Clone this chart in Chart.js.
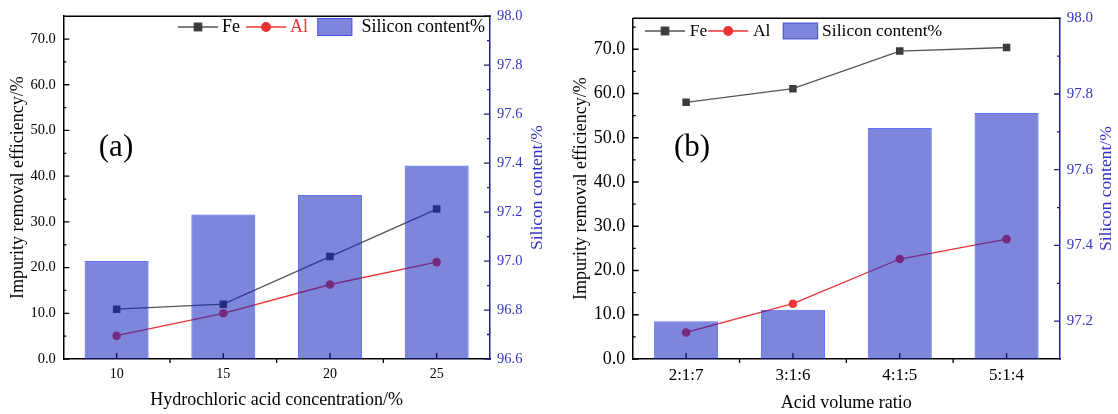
<!DOCTYPE html>
<html>
<head>
<meta charset="utf-8">
<script src="https://cdn.jsdelivr.net/npm/chart.js@4.4.1/dist/chart.umd.min.js"></script>
<style>
  html, body { margin: 0; padding: 0; background: #fff; }
  .wrap { position: relative; width: 1118px; height: 414px; }
  #chartA { position: absolute; left: 0; top: 0; }
  #chartB { position: absolute; left: 560px; top: 0; }
</style>
</head>
<body>
<div class="wrap">
  <canvas id="chartA" width="560" height="414"></canvas>
  <canvas id="chartB" width="558" height="414"></canvas>
</div>
<script>
// panel (a) - hydrochloric acid concentration
const catsA = ['10', '15', '20', '25'];
const feA = [10.9, 12.0, 22.4, 32.8];
const alA = [5.1, 10.0, 16.3, 21.2];
const siA = [97.0, 97.19, 97.27, 97.39];
const leftTicksA = [0, 10, 20, 30, 40, 50, 60, 70];
const rightTicksA = [96.6, 96.8, 97.0, 97.2, 97.4, 97.6, 97.8, 98.0];

// panel (b) - acid volume ratio
const catsB = ['2:1:7', '3:1:6', '4:1:5', '5:1:4'];
const feB = [58.0, 61.1, 69.6, 70.4];
const alB = [6.0, 12.5, 22.6, 27.1];
const siB = [97.20, 97.23, 97.71, 97.75];
const leftTicksB = [0, 10, 20, 30, 40, 50, 60, 70];
const rightTicksB = [97.2, 97.4, 97.6, 97.8, 98.0];

const SERIF = '"Liberation Serif", "Times New Roman", serif';
const FE_LINE = '#555555';
const FE_POINT = '#3c3c3c';
const AL_RED = '#ee3333';
const BAR_FILL = 'rgba(20,35,190,0.55)';
const BAR_EDGE = 'rgba(45,65,235,0.75)';
const NAVY = '#1c1c8c';
const BLUE_TXT = '#3434c8';

// minor tick values half way between majors, kept inside the axis range
function minorValues(scale) {
  const t = scale.ticks.map(k => k.value);
  if (t.length < 2) return [];
  const step = t[1] - t[0];
  const out = [t[0] - step / 2];
  t.forEach(v => out.push(v + step / 2));
  return out.filter(v => v > scale.min + 1e-9 && v < scale.max - 1e-9);
}

const extrasPlugin = {
  id: 'extras',
  beforeDatasetsDraw(chart, args, o) {
    const ctx = chart.ctx;
    const { left, right, bottom } = chart.chartArea;
    const y = chart.scales.y, y1 = chart.scales.y1, x = chart.scales.x;
    ctx.save();
    ctx.lineWidth = 1.3;

    // left axis ticks, inward
    ctx.strokeStyle = '#000';
    ctx.beginPath();
    y.ticks.forEach(t => {
      const p = y.getPixelForValue(t.value);
      ctx.moveTo(left, p); ctx.lineTo(left + 6, p);
    });
    minorValues(y).forEach(v => {
      const p = y.getPixelForValue(v);
      ctx.moveTo(left, p); ctx.lineTo(left + 3, p);
    });
    // x axis: majors up at categories, minors down at boundaries
    const n = chart.data.labels.length;
    for (let i = 0; i < n; i++) {
      const p = x.getPixelForValue(i);
      ctx.moveTo(p, bottom); ctx.lineTo(p, bottom - 6);
      if (i < n - 1) {
        const m = x.getPixelForValue(i + 0.5);
        ctx.moveTo(m, bottom); ctx.lineTo(m, bottom + 4);
      }
    }
    ctx.stroke();

    // right axis ticks, inward
    ctx.strokeStyle = NAVY;
    ctx.beginPath();
    y1.ticks.forEach(t => {
      const p = y1.getPixelForValue(t.value);
      ctx.moveTo(right, p); ctx.lineTo(right - 6, p);
    });
    minorValues(y1).forEach(v => {
      const p = y1.getPixelForValue(v);
      ctx.moveTo(right, p); ctx.lineTo(right - 3, p);
    });
    ctx.stroke();
    ctx.restore();
  },
  afterDraw(chart, args, o) {
    const ctx = chart.ctx;
    const area = chart.chartArea;
    ctx.save();

    // top frame line
    ctx.strokeStyle = '#000';
    ctx.lineWidth = 1.5;
    ctx.beginPath();
    ctx.moveTo(area.left, area.top);
    ctx.lineTo(area.right + 0.75, area.top);
    ctx.stroke();

    // right axis title, reading bottom to top
    ctx.save();
    ctx.translate(area.right + o.rightTitleOffset, (area.top + area.bottom) / 2);
    ctx.rotate(-Math.PI / 2);
    ctx.font = `${o.rightTitleSize}px ${SERIF}`;
    ctx.fillStyle = BLUE_TXT;
    ctx.textAlign = 'center';
    ctx.textBaseline = 'middle';
    ctx.fillText(o.rightTitle, 0, 0);
    ctx.restore();

    // panel label
    ctx.font = `${o.panelSize}px ${SERIF}`;
    ctx.fillStyle = '#000';
    ctx.textAlign = 'center';
    ctx.textBaseline = 'middle';
    ctx.fillText(o.panel, o.panelX, o.panelY);

    // legend
    const lg = o.legend;
    let lx = area.left + lg.x;
    const cy = lg.y;
    ctx.font = `${lg.size}px ${SERIF}`;
    ctx.textAlign = 'left';
    ctx.textBaseline = 'middle';
    chart.data.datasets.forEach((ds, i) => {
      if (ds.type === 'line') {
        ctx.strokeStyle = ds.borderColor;
        ctx.lineWidth = ds.borderWidth;
        ctx.beginPath();
        ctx.moveTo(lx, cy); ctx.lineTo(lx + lg.lineLen, cy);
        ctx.stroke();
        Chart.helpers.drawPoint(ctx, {
          pointStyle: ds.pointStyle, radius: ds.pointRadius, borderWidth: 1
        }, lx + lg.lineLen / 2, cy);
        ctx.fillStyle = ds.pointBackgroundColor;
        ctx.fill();
        lx += lg.lineLen + lg.lineGap;
      } else {
        lx += lg.boxGap - lg.itemGap;
        ctx.fillStyle = ds.backgroundColor;
        ctx.fillRect(lx, cy - lg.boxH / 2, lg.boxW, lg.boxH);
        ctx.strokeStyle = ds.borderColor;
        ctx.lineWidth = 1;
        ctx.strokeRect(lx + 0.5, cy - lg.boxH / 2 + 0.5, lg.boxW - 1, lg.boxH - 1);
        lx += lg.boxW + lg.boxTextGap;
      }
      ctx.fillStyle = lg.colors[i];
      ctx.fillText(ds.label, lx, cy);
      lx += ctx.measureText(ds.label).width + lg.itemGap;
    });
    ctx.restore();
  }
};

function buildChart(id, p) {
  return new Chart(document.getElementById(id), {
    type: 'bar',
    plugins: [extrasPlugin],
    data: {
      labels: p.cats,
      datasets: [
        {
          type: 'line', label: 'Fe', data: p.fe, yAxisID: 'y', order: 1,
          borderColor: FE_LINE, borderWidth: 1.3, tension: 0,
          pointStyle: 'rect', pointRadius: 5.3,
          pointBackgroundColor: FE_POINT, pointBorderColor: FE_POINT, pointBorderWidth: 0
        },
        {
          type: 'line', label: 'Al', data: p.al, yAxisID: 'y', order: 1,
          borderColor: AL_RED, borderWidth: 1.3, tension: 0,
          pointStyle: 'circle', pointRadius: 4.3,
          pointBackgroundColor: AL_RED, pointBorderColor: AL_RED, pointBorderWidth: 0
        },
        {
          type: 'bar', label: 'Silicon content%', data: p.si, yAxisID: 'y1', order: 0,
          backgroundColor: BAR_FILL, borderColor: BAR_EDGE, borderWidth: 1,
          barPercentage: 0.6, categoryPercentage: 1.0
        }
      ]
    },
    options: {
      responsive: false,
      animation: false,
      layout: { padding: { top: 14, left: 0, right: 0, bottom: 0 } },
      plugins: {
        legend: { display: false },
        tooltip: { enabled: false },
        extras: p.extras
      },
      scales: {
        x: {
          type: 'category',
          offset: true,
          grid: { display: false, drawTicks: false },
          border: { display: true, color: '#000', width: 1.5 },
          ticks: {
            color: '#000', padding: p.xTickPad, autoSkip: false, maxRotation: 0,
            font: { family: SERIF, size: p.xTickSize }
          },
          title: {
            display: true, text: p.xTitle, color: '#000',
            padding: { top: 0, bottom: p.xTitlePad },
            font: { family: SERIF, size: p.xTitleSize }
          },
          afterFit: s => { s.height = p.bottomH; }
        },
        y: {
          position: 'left',
          min: 0, max: p.leftMax,
          grid: { display: false, drawTicks: false },
          border: { display: true, color: '#000', width: 1.5 },
          afterBuildTicks: s => { s.ticks = p.leftTicks.map(v => ({ value: v })); },
          ticks: {
            color: '#000', padding: p.yTickPad,
            font: { family: SERIF, size: p.yTickSize },
            callback: v => Number(v).toFixed(1)
          },
          title: {
            display: true, text: 'Impurity removal efficiency/%', color: '#000',
            padding: { top: p.yTitlePad, bottom: 0 },
            font: { family: SERIF, size: 18 }
          },
          afterFit: s => { s.width = p.leftW; }
        },
        y1: {
          position: 'right',
          min: p.rightMin, max: p.rightMax,
          grid: { display: false, drawTicks: false },
          border: { display: true, color: NAVY, width: 1.5 },
          afterBuildTicks: s => { s.ticks = p.rightTicks.map(v => ({ value: v })); },
          ticks: {
            color: BLUE_TXT, padding: p.y1TickPad,
            font: { family: SERIF, size: p.y1TickSize },
            callback: v => Number(v).toFixed(1)
          },
          afterFit: s => { s.width = p.rightW; }
        }
      }
    }
  });
}

buildChart('chartA', {
  cats: catsA, fe: feA, al: alA, si: siA,
  leftTicks: leftTicksA, leftMax: 75,
  rightTicks: rightTicksA, rightMin: 96.6, rightMax: 98.0,
  xTitle: 'Hydrochloric acid concentration/%',
  leftW: 63.3, rightW: 70, bottomH: 55,
  xTickSize: 14, xTickPad: 7, xTitleSize: 18, xTitlePad: 3,
  yTickSize: 14.5, yTickPad: 7.5, yTitlePad: 7,
  y1TickSize: 14.5, y1TickPad: 7,
  extras: {
    rightTitle: 'Silicon content/%', rightTitleSize: 17.5, rightTitleOffset: 47.5,
    panel: '(a)', panelSize: 31, panelX: 116, panelY: 148,
    legend: {
      x: 114.7, y: 27, size: 18, lineLen: 40, lineGap: 4, itemGap: 6,
      boxGap: 9.3, boxW: 35, boxH: 18, boxTextGap: 9.3,
      colors: ['#000', AL_RED, '#000']
    }
  }
});

buildChart('chartB', {
  cats: catsB, fe: feB, al: alB, si: siB,
  leftTicks: leftTicksB, leftMax: 77,
  rightTicks: rightTicksB, rightMin: 97.1, rightMax: 98.0,
  xTitle: 'Acid volume ratio',
  leftW: 72.7, rightW: 58, bottomH: 55,
  xTickSize: 17, xTickPad: 6, xTitleSize: 18, xTitlePad: 0,
  yTickSize: 18, yTickPad: 7.5, yTitlePad: 10.5,
  y1TickSize: 15, y1TickPad: 6.7,
  extras: {
    rightTitle: 'Silicon content/%', rightTitleSize: 17.5, rightTitleOffset: 46,
    panel: '(b)', panelSize: 31, panelX: 132, panelY: 148,
    legend: {
      x: 12.3, y: 31, size: 17.5, lineLen: 40, lineGap: 4.7, itemGap: 1,
      boxGap: 12.4, boxW: 35.3, boxH: 16.6, boxTextGap: 4,
      colors: ['#000', '#000', '#000']
    }
  }
});
</script>
</body>
</html>
